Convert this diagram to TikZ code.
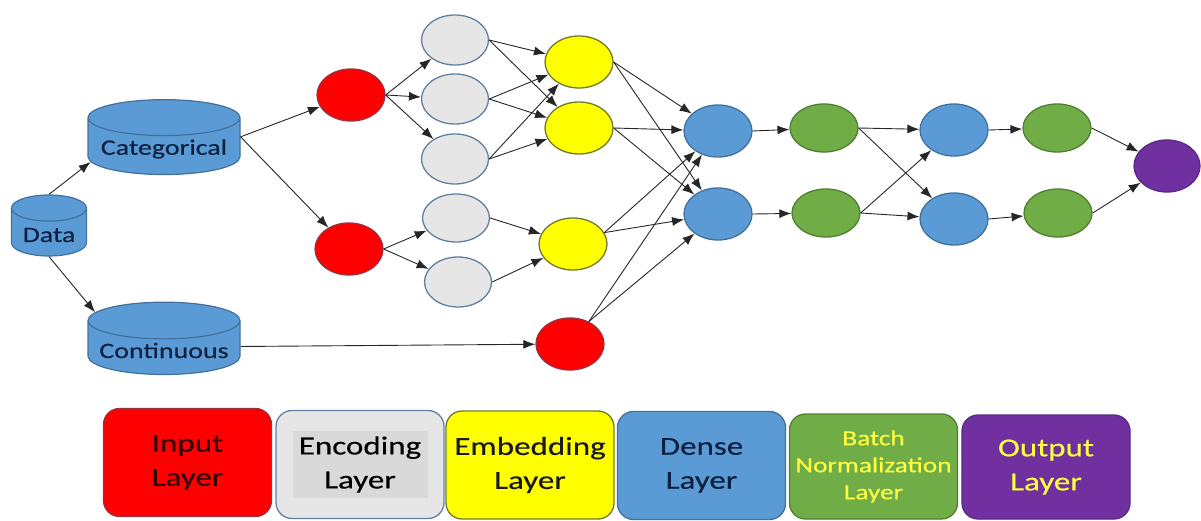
\documentclass[tikz,border=0pt]{standalone}
\usepackage{fontspec}
\setmainfont{Carlito}[FakeStretch=1.27, FakeBold=0.3]
\usetikzlibrary{shapes.geometric,arrows.meta}

\definecolor{redfill}{HTML}{FF0000}
\definecolor{redline}{HTML}{9B3040}
\definecolor{grayfill}{HTML}{E7E6E6}
\definecolor{grayline}{HTML}{62809E}
\definecolor{grayinner}{HTML}{D9D9D9}
\definecolor{yelfill}{HTML}{FFFF00}
\definecolor{yelline}{HTML}{6E7A2A}
\definecolor{bluefill}{HTML}{5B9BD5}
\definecolor{blueline}{HTML}{41719C}
\definecolor{greenfill}{HTML}{70AD47}
\definecolor{greenline}{HTML}{507E32}
\definecolor{purpfill}{HTML}{7030A0}
\definecolor{purpline}{HTML}{5A2A85}
\definecolor{navytext}{HTML}{0F1F3F}
\definecolor{keyyellow}{HTML}{FFFF40}

\begin{document}
\begin{tikzpicture}[x=1pt, y=-1pt,
                    unit/.style={ellipse, line width=1.3pt, minimum width=68pt, minimum height=52pt, inner sep=0pt},
                    red_node/.style={unit, draw=redline, fill=redfill},
                    gray_node/.style={unit, draw=grayline, fill=grayfill, minimum width=67pt, minimum height=50pt},
                    yellow_node/.style={unit, draw=yelline, fill=yelfill},
                    blue_node/.style={unit, draw=blueline, fill=bluefill},
                    green_node/.style={unit, draw=greenline, fill=greenfill, minimum height=48pt},
                    purple_node/.style={unit, draw=purpline, fill=purpfill, minimum width=66pt},
                    store/.style={cylinder, shape border rotate=90, aspect=0.27, draw=blueline, fill=bluefill,
                                  line width=1.2pt, text=navytext, font=\fontsize{22}{23}\selectfont},
                    link/.style={-{Latex[length=12pt, width=9pt]}, draw=black!85, line width=0.9pt},
                    key/.style={rounded corners=16pt, line width=1.3pt, minimum width=168pt, minimum height=108pt,
                                align=center, font=\fontsize{26}{34}\selectfont}
                ]
                    \useasboundingbox (0,0) rectangle (1201,521);

                    % data sources
                    \node[store, aspect=0.44, minimum width=75pt, minimum height=61pt] (data) at (49,235) {Data};
                    \node[store, minimum width=152pt, minimum height=64pt] (cat) at (164,149) {Categorical};
                    \node[store, minimum width=152pt, minimum height=68pt] (cont) at (164,350.5) {Continuous};

                    % input layer
                    \node[red_node] (in1) at (351,95) {};
                    \node[red_node] (in2) at (349,249) {};
                    \node[red_node] (in3) at (570,344) {};

                    % encoding layer
                    \node[gray_node] (enc1) at (455,40) {};
                    \node[gray_node] (enc2) at (455,99) {};
                    \node[gray_node] (enc3) at (455,159) {};
                    \node[gray_node, minimum height=48pt] (enc4) at (456,218) {};
                    \node[gray_node] (enc5) at (458,282) {};

                    % embedding layer
                    \node[yellow_node] (emb1) at (579,62) {};
                    \node[yellow_node] (emb2) at (579,128) {};
                    \node[yellow_node] (emb3) at (573,244) {};

                    % dense / batch norm / dense / batch norm / output
                    \node[blue_node] (den1) at (718,131) {};
                    \node[blue_node] (den2) at (718,214) {};
                    \node[green_node] (bn1) at (824,128) {};
                    \node[green_node] (bn2) at (826,213) {};
                    \node[blue_node] (den3) at (954,130) {};
                    \node[blue_node] (den4) at (954,219) {};
                    \node[green_node] (bn3) at (1057,128) {};
                    \node[green_node] (bn4) at (1058,213) {};
                    \node[purple_node] (out) at (1167,166) {};

                    % connections
                    \draw[link] (data.north) -- (cat.190);
                    \draw[link] (data.south) -- (cont.151);
                    \draw[link] (cat.9) -- (in1);
                    \draw[link] (cat.9) -- (in2);
                    \draw[link] (cont.3) -- (in3);
                    \foreach \e in {enc1,enc2,enc3} \draw[link] (in1.east) -- (\e);
                    \foreach \e in {enc4,enc5} \draw[link] (in2.east) -- (\e);
                    \foreach \e in {enc1,enc2,enc3} {
                        \draw[link] (\e.east) -- (emb1);
                        \draw[link] (\e.east) -- (emb2);
                    }
                    \foreach \e in {enc4,enc5} \draw[link] (\e.east) -- (emb3);
                    \foreach \s in {emb1.east,emb2.east,emb3.20,in3.50} {
                        \draw[link] (\s) -- (den1);
                        \draw[link] (\s) -- (den2);
                    }
                    \draw[link] (den1.east) -- (bn1);
                    \draw[link] (den2.east) -- (bn2);
                    \foreach \s in {bn1,bn2} {
                        \draw[link] (\s.east) -- (den3);
                        \draw[link] (\s.east) -- (den4);
                    }
                    \draw[link] (den3.east) -- (bn3);
                    \draw[link] (den4.east) -- (bn4);
                    \draw[link] (bn3.east) -- (out);
                    \draw[link] (bn4.east) -- (out);

                    % legend
                    \node[key, draw=redline, fill=redfill, text=black!80!red] (key_in) at (187.5,462.5) {Input\\Layer};
                    \node[key, draw=grayline, fill=grayfill] (key_enc) at (360,464.5) {};
                    \node[fill=grayinner, minimum width=135pt, minimum height=67pt, align=center,
                          font=\fontsize{26}{34}\selectfont] (key_enc_text) at (key_enc) {Encoding\\Layer};
                    \node[key, draw=yelline, fill=yelfill, text=black!90] (key_emb) at (530,465) {Embedding\\Layer};
                    \node[key, draw=blueline, fill=bluefill, text=navytext] (key_den) at (701.5,465.5) {Dense\\Layer};
                    \node[key, draw=greenline, fill=greenfill, text=keyyellow, minimum height=105pt,
                          font=\fontsize{21.5}{27}\selectfont] (key_bn) at (873.5,466.5) {Batch\\Normalization\\Layer};
                    \node[key, draw=purpline, fill=purpfill, text=keyyellow, minimum height=104pt] (key_out) at (1046,467) {Output\\Layer};
                \end{tikzpicture}
\end{document}
